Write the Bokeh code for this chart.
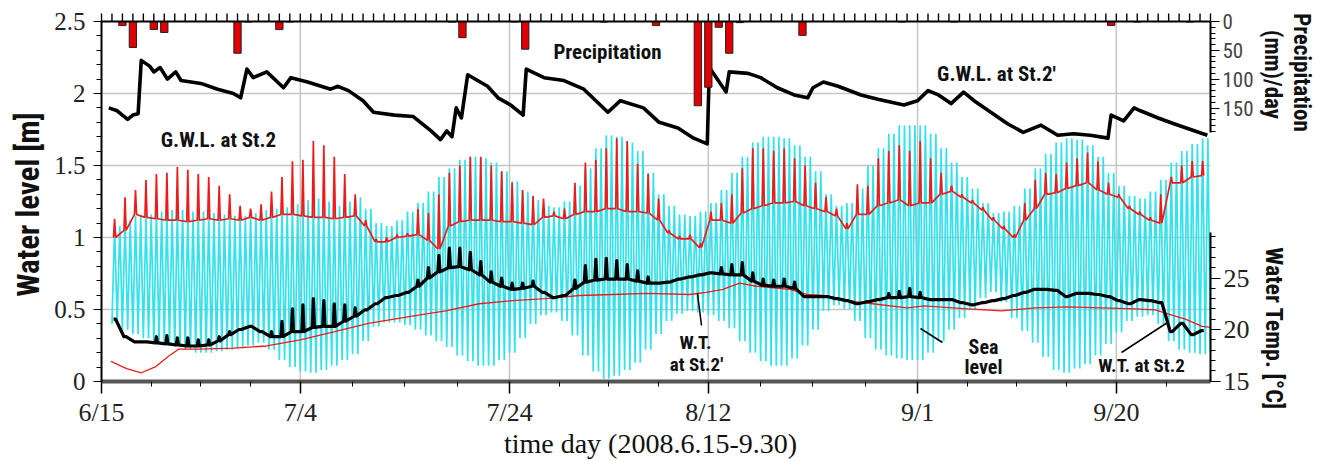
import math
from bokeh.plotting import figure
from bokeh.models import Range1d, LinearAxis, FixedTicker, Label, Arrow
from bokeh.embed import file_html
from bokeh.resources import INLINE

# ---------------- data ----------------
# x is "days since 6/15/2008"
x_tick_days = [0, 19, 39, 58, 78, 97]
x_tick_labels = ["6/15", "7/4", "7/24", "8/12", "9/1", "9/20"]
y_ticks = [0, 0.5, 1, 1.5, 2, 2.5]
y_tick_labels = ["0", "0.5", "1", "1.5", "2", "2.5"]
precip_ticks = [0, 50, 100, 150]
temp_ticks = [15, 20, 25]

# daily precipitation (mm/day)
precip_day = [2, 3, 5, 6, 13, 14, 17, 18, 33.5, 34.5, 39.5, 40.5, 48, 53, 57, 58,
              59, 60, 61, 67, 76.5, 81.5, 96.5, 99, 104]
precip_mm = [7, 45, 14, 19, 55, 1, 14, 1, 1, 28, 1, 48, 1, 7, 146, 114,
             10, 55, 2, 24, 1, 1, 7, 1, 1]

# G.W.L. at St.2' (m)
gwl2p_day = [0.7, 1.5, 2.5, 3.0, 3.5, 3.8, 4.6, 5.0, 5.6, 6.3,
             7.1, 7.6, 9.5, 11.1, 12.6, 13.3, 13.9, 14.5, 15.8, 17.4,
             18.1, 19.7, 21.9, 22.6, 23.6, 25.0, 26.0, 28.0, 29.8, 31.5,
             32.4, 33.0, 33.5, 33.9, 34.4, 35.0, 36.9, 37.9, 39.1, 40.3,
             40.6, 42.3, 44.2, 46.1, 48.4, 49.6, 51.8, 53.3, 55.1, 56.6,
             57.9, 58.1, 59.7, 60.0, 61.8, 63.0, 64.6, 66.2, 67.5, 68.0,
             69.0, 70.4, 72.6, 74.2, 76.7, 78.0, 79.0, 80.0, 81.2, 82.4,
             83.4, 85.0, 86.6, 88.1, 89.8, 91.4, 92.9, 94.5, 96.2, 96.5,
             97.7, 98.7, 99.3, 101.0, 102.5, 104.1, 105.7]
gwl2p_m = [1.90, 1.88, 1.82, 1.85, 1.86, 2.23, 2.19, 2.15, 2.18, 2.10,
           2.15, 2.09, 2.07, 2.03, 2.00, 1.97, 2.17, 2.11, 2.15, 2.04,
           2.11, 2.08, 2.03, 2.05, 2.02, 1.95, 1.87, 1.85, 1.84, 1.74,
           1.68, 1.74, 1.70, 1.90, 1.83, 2.13, 2.05, 1.97, 1.92, 1.85,
           2.17, 2.11, 2.09, 2.03, 1.87, 1.95, 1.90, 1.80, 1.76, 1.69,
           1.65, 2.18, 2.01, 2.15, 2.14, 2.11, 2.04, 1.99, 1.97, 2.04,
           2.08, 2.05, 1.99, 1.96, 1.92, 1.95, 2.02, 1.99, 1.93, 2.01,
           1.95, 1.87, 1.79, 1.73, 1.78, 1.71, 1.72, 1.71, 1.69, 1.85,
           1.81, 1.90, 1.88, 1.83, 1.79, 1.75, 1.71]

# Sea level: daily high / low water (m), days 1..106
tide_days = list(range(1, 107))
tide_high = [1.08, 1.12, 1.15, 1.16, 1.18, 1.19, 1.19, 1.18, 1.18, 1.17,
             1.16, 1.15, 1.15, 1.17, 1.19, 1.20, 1.21, 1.23, 1.26, 1.27,
             1.25, 1.22, 1.25, 1.28, 1.20, 1.10, 1.08, 1.12, 1.18, 1.24,
             1.32, 1.42, 1.48, 1.54, 1.56, 1.55, 1.52, 1.46, 1.39, 1.32,
             1.26, 1.22, 1.21, 1.25, 1.36, 1.48, 1.62, 1.71, 1.70, 1.66,
             1.60, 1.45, 1.30, 1.22, 1.16, 1.15, 1.18, 1.24, 1.33, 1.45,
             1.56, 1.66, 1.70, 1.70, 1.69, 1.64, 1.56, 1.46, 1.30, 1.22,
             1.24, 1.34, 1.50, 1.62, 1.72, 1.78, 1.78, 1.78, 1.72, 1.62,
             1.52, 1.42, 1.34, 1.24, 1.17, 1.18, 1.22, 1.34, 1.48, 1.58,
             1.66, 1.69, 1.68, 1.64, 1.56, 1.45, 1.36, 1.29, 1.27, 1.32,
             1.40, 1.52, 1.60, 1.65, 1.69, 1.70]
tide_low = [0.40, 0.36, 0.33, 0.30, 0.27, 0.26, 0.24, 0.22, 0.20, 0.20,
            0.21, 0.22, 0.23, 0.25, 0.27, 0.22, 0.15, 0.10, 0.07, 0.06,
            0.08, 0.11, 0.15, 0.19, 0.28, 0.38, 0.41, 0.41, 0.39, 0.36,
            0.32, 0.28, 0.24, 0.18, 0.14, 0.11, 0.11, 0.15, 0.20, 0.30,
            0.40, 0.46, 0.48, 0.42, 0.32, 0.18, 0.07, 0.02, 0.04, 0.08,
            0.13, 0.22, 0.33, 0.42, 0.47, 0.49, 0.48, 0.46, 0.42, 0.37,
            0.28, 0.20, 0.14, 0.11, 0.11, 0.16, 0.25, 0.36, 0.49, 0.53,
            0.50, 0.42, 0.30, 0.22, 0.18, 0.16, 0.15, 0.15, 0.20, 0.28,
            0.36, 0.44, 0.50, 0.58, 0.62, 0.55, 0.44, 0.35, 0.27, 0.17,
            0.08, 0.06, 0.09, 0.12, 0.18, 0.26, 0.34, 0.42, 0.45, 0.46,
            0.40, 0.28, 0.22, 0.20, 0.19, 0.20]

# G.W.L. at St.2 (m): daily base level and high-tide peak, days 1..106
gwl2_base = [1.00, 1.05, 1.16, 1.14, 1.13, 1.12, 1.12, 1.11, 1.12, 1.13,
             1.12, 1.13, 1.12, 1.14, 1.12, 1.14, 1.16, 1.16, 1.15, 1.14,
             1.14, 1.13, 1.14, 1.15, 1.08, 0.97, 0.97, 1.00, 1.01, 1.02,
             0.98, 0.92, 1.08, 1.11, 1.12, 1.12, 1.12, 1.11, 1.11, 1.10,
             1.09, 1.14, 1.15, 1.13, 1.16, 1.18, 1.18, 1.20, 1.20, 1.18,
             1.18, 1.17, 1.12, 1.03, 0.99, 0.99, 0.93, 1.12, 1.12, 1.10,
             1.17, 1.20, 1.22, 1.24, 1.24, 1.25, 1.22, 1.20, 1.18, 1.15,
             1.06, 1.16, 1.16, 1.22, 1.24, 1.26, 1.22, 1.24, 1.24, 1.30,
             1.32, 1.28, 1.24, 1.19, 1.12, 1.06, 1.00, 1.12, 1.20, 1.30,
             1.31, 1.34, 1.36, 1.38, 1.33, 1.30, 1.28, 1.20, 1.16, 1.12,
             1.10, 1.38, 1.38, 1.42, 1.43, 1.40]
gwl2_peak = [1.13, 1.28, 1.33, 1.40, 1.44, 1.45, 1.49, 1.47, 1.44, 1.42,
             1.36, 1.30, 1.22, 1.20, 1.23, 1.32, 1.42, 1.53, 1.54, 1.67,
             1.64, 1.56, 1.44, 1.30, 1.12, 0.99, 1.00, 1.02, 1.03, 1.20,
             1.17, 1.30, 1.45, 1.50, 1.56, 1.56, 1.50, 1.46, 1.38, 1.33,
             1.29, 1.27, 1.18, 1.20, 1.38, 1.52, 1.54, 1.62, 1.69, 1.67,
             1.51, 1.44, 1.27, 1.05, 1.01, 1.02, 0.96, 1.18, 1.24, 1.30,
             1.48, 1.62, 1.62, 1.60, 1.62, 1.55, 1.50, 1.38, 1.28, 1.20,
             1.10, 1.37, 1.36, 1.55, 1.60, 1.64, 1.60, 1.67, 1.55, 1.45,
             1.36, 1.30, 1.26, 1.21, 1.14, 1.08, 1.02, 1.24, 1.40, 1.45,
             1.44, 1.52, 1.55, 1.59, 1.53, 1.38, 1.30, 1.22, 1.18, 1.14,
             1.30, 1.42, 1.50, 1.53, 1.53, 1.45]

# W.T. at St.2 (deg C): daily base and peak, days 1..106
wt2_base = [21.0, 19.3, 18.8, 18.8, 18.7, 18.6, 18.5, 18.4, 18.4, 18.5,
            18.9, 19.5, 20.0, 20.3, 19.8, 19.3, 19.3, 19.8, 19.8, 20.2,
            20.3, 20.3, 20.8, 21.3, 21.9, 22.5, 23.1, 23.3, 23.6, 24.2,
            25.0, 25.6, 26.0, 26.1, 25.8, 25.3, 24.6, 24.2, 23.9, 24.0,
            24.2, 23.6, 23.1, 23.3, 24.0, 24.6, 24.8, 24.9, 24.9, 24.9,
            24.7, 24.5, 24.5, 24.6, 24.9, 25.1, 25.3, 25.5, 25.4, 25.3,
            25.3, 24.7, 24.3, 24.2, 24.2, 24.0, 23.2, 23.2, 23.2, 23.0,
            22.8, 22.5, 22.7, 22.9, 23.1, 23.1, 23.2, 23.1, 22.9, 22.9,
            22.9, 22.6, 22.4, 22.6, 22.8, 23.0, 23.3, 23.6, 23.9, 23.9,
            23.8, 23.2, 23.5, 23.5, 23.4, 23.2, 22.8, 22.5, 22.9, 22.8,
            22.6, 19.8, 20.6, 19.5, 19.9, 20.3]
wt2_peak = [21.0, 19.3, 18.8, 18.8, 19.3, 19.4, 19.2, 19.2, 19.0, 19.0,
            19.3, 19.8, 20.0, 20.3, 19.8, 19.8, 20.8, 22.0, 22.4, 23.0,
            22.8, 22.5, 22.4, 22.1, 21.9, 22.5, 23.1, 23.3, 23.6, 24.8,
            26.0, 27.2, 27.9, 27.9, 27.5, 26.6, 25.6, 25.0, 24.5, 24.5,
            24.7, 23.6, 23.1, 23.3, 24.8, 26.2, 26.8, 26.9, 26.7, 26.3,
            25.7, 25.1, 24.5, 24.6, 24.9, 25.1, 25.3, 25.5, 26.0, 26.3,
            26.5, 25.5, 24.9, 24.8, 24.9, 24.6, 23.2, 23.2, 23.2, 23.0,
            22.8, 22.5, 22.7, 22.9, 23.5, 23.7, 24.0, 23.6, 22.9, 22.9,
            22.9, 22.6, 22.4, 22.6, 22.8, 23.0, 23.3, 23.6, 23.9, 23.9,
            23.8, 23.2, 23.5, 23.5, 23.4, 23.2, 22.8, 22.5, 22.9, 22.8,
            22.6, 19.8, 20.6, 19.5, 19.9, 20.3]

# W.T. at St.2' (deg C)
wt2p_day = [0.9, 2.4, 3.8, 5.2, 6.4, 7.4, 9.4, 12.6, 15.8, 19.0,
            22.3, 25.5, 29.7, 32.9, 36.1, 39.3, 42.5, 45.7, 48.9, 52.1,
            56.2, 57.8, 59.4, 61.0, 62.6, 65.8, 67.4, 69.0, 72.1, 73.7,
            77.0, 78.6, 82.8, 86.0, 89.2, 92.4, 95.6, 98.8, 100.7, 102.0,
            103.6, 105.2, 106.0]
wt2p_c = [16.9, 16.2, 15.8, 16.4, 17.4, 18.1, 18.1, 18.2, 18.4, 19.0,
          19.8, 20.6, 21.3, 21.8, 22.5, 22.8, 23.0, 23.3, 23.4, 23.5,
          23.4, 23.6, 23.9, 24.5, 24.2, 23.9, 23.4, 23.3, 22.7, 22.5,
          22.1, 22.3, 22.0, 21.8, 22.1, 22.2, 22.1, 22.0, 21.9, 21.5,
          21.0, 20.3, 20.2]

# ---------------- layout / styling ----------------
W, H = 1322, 461
X_END = 106                      # last day shown (9/30)
PX_DAY = 1109 / X_END            # plot box: x 101..1210 px
LEFT, BOTTOM, TOP = 101, 381, 21  # page pixels of the plot box
PX_M = (BOTTOM - TOP) / 2.5
PX_MM = 0.577
PX_C, C15_Y = 10.3, 380.5

CYAN = "#33e2ea"
RED = "#ec1c1c"
SANS = "Roboto Condensed"
SERIF = "Liberation Serif"

x_range = Range1d(-LEFT / PX_DAY, (W - LEFT) / PX_DAY)
y_range = Range1d(-(H - BOTTOM) / PX_M, BOTTOM / PX_M)

p = figure(width=W, height=H, output_backend="svg", toolbar_location=None,
           x_range=x_range, y_range=y_range,
           min_border_left=0, min_border_right=0, min_border_top=0,
           min_border_bottom=0)
p.outline_line_color = None
p.background_fill_color = None
p.border_fill_color = None
p.xgrid.grid_line_color = None
p.ygrid.grid_line_color = None
p.extra_y_ranges = {
    "precip": Range1d(start=(H - TOP) / PX_MM, end=-TOP / PX_MM),
    "temp": Range1d(start=15 - (H - C15_Y) / PX_C, end=15 + C15_Y / PX_C),
}

# grid lines at the major ticks, inside the plot box
GRID = "#c6c6c6"
p.segment(x0=x_tick_days[1:], y0=[0] * 5, x1=x_tick_days[1:], y1=[2.5] * 5,
          line_color=GRID, line_width=1.5, level="underlay")
p.segment(x0=[0] * 4, y0=y_ticks[1:5], x1=[X_END] * 4, y1=y_ticks[1:5],
          line_color=GRID, line_width=1.5, level="underlay")

# sea level (semi-diurnal tide between daily low and high)
sx, sy = [], []
for d, hi, lo in zip(tide_days, tide_high, tide_low):
    for t, v in ((d, lo), (d + 0.25, hi), (d + 0.5, lo), (d + 0.75, hi)):
        if t <= X_END:
            sx.append(t)
            sy.append(v)
p.line(sx, sy, line_color=CYAN, line_width=1.7)

# G.W.L. at St.2 (red, spiky)
gx, gy = [], []
for d, b, pk in zip(tide_days, gwl2_base, gwl2_peak):
    for t, v in ((d + 0.15, b), (d + 0.25, pk), (d + 0.35, b)):
        if t <= X_END:
            gx.append(t)
            gy.append(v)
p.line(gx, gy, line_color=RED, line_width=1.7)

# W.T. at St.2' (thin red)
p.line(wt2p_day, wt2p_c, y_range_name="temp", line_color=RED, line_width=1.3)

# W.T. at St.2 (thick black)
wx, wy = [], []
for d, b, pk in zip(tide_days, wt2_base, wt2_peak):
    for t, v in ((d + 0.15, b), (d + 0.25, pk), (d + 0.35, b)):
        if t <= X_END:
            wx.append(t)
            wy.append(v)
p.line(wx, wy, y_range_name="temp", line_color="black", line_width=3.2,
       line_join="round")

# G.W.L. at St.2' (thick black)
p.line(gwl2p_day, gwl2p_m, line_color="black", line_width=3.6, line_join="round")

# precipitation bars hanging from the top
p.vbar(x=precip_day, width=0.7, top=0, bottom=precip_mm, y_range_name="precip",
       fill_color="#e00000", line_color="#222222", line_width=1)

# daily tick marks along the top edge (small black bars pointing up)
day_ticks = list(range(0, X_END + 1))
p.vbar(x=day_ticks, width=1.4 / PX_DAY, bottom=2.5, top=2.5 + 8 / PX_M,
       fill_color="black", line_color=None, level="overlay")

# ---------------- axes (all at fixed locations) ----------------
minor_x = []
for a, b in zip(x_tick_days[:-1], x_tick_days[1:]):
    minor_x += [a + k * (b - a) / 4 for k in range(1, 4)]
minor_x += [x_tick_days[-1] + (x_tick_days[-1] - x_tick_days[-2]) / 4]

xa = p.xaxis[0]
xa.fixed_location = 0
xa.bounds = (0, X_END)
xa.ticker = FixedTicker(ticks=x_tick_days, minor_ticks=minor_x)
xa.major_label_overrides = {d: s for d, s in zip(x_tick_days, x_tick_labels)}
xa.major_label_text_font = SERIF
xa.major_label_text_font_size = "26px"
xa.major_label_text_color = "#222222"
xa.major_label_standoff = 4
xa.major_tick_out = 12
xa.major_tick_in = 0
xa.minor_tick_out = 5
xa.minor_tick_in = 0
xa.axis_line_width = 4
xa.axis_line_color = "#555555"
xa.major_tick_line_width = 1.5

ya = p.yaxis[0]
ya.fixed_location = 0
ya.bounds = (0, 2.5)
ya.ticker = FixedTicker(ticks=y_ticks, minor_ticks=[i / 10 for i in range(26)])
ya.major_label_overrides = {v: s for v, s in zip(y_ticks, y_tick_labels)}
ya.major_label_text_font = SERIF
ya.major_label_text_font_size = "25px"
ya.major_label_text_color = "#222222"
ya.major_label_standoff = 8
ya.major_tick_out = 8
ya.major_tick_in = 0
ya.minor_tick_out = 5
ya.minor_tick_in = 0
ya.axis_line_width = 2

# top edge line
top_ax = LinearAxis(ticker=FixedTicker(ticks=[]), fixed_location=2.5,
                    bounds=(0, X_END), major_tick_out=0, major_tick_in=0,
                    minor_tick_out=0, minor_tick_in=0, axis_line_width=2)
p.add_layout(top_ax, "below")

pa = LinearAxis(y_range_name="precip",
                ticker=FixedTicker(ticks=precip_ticks,
                                   minor_ticks=list(range(10, 200, 10))),
                bounds=(0, 193), fixed_location=X_END,
                major_tick_out=9, major_tick_in=0, minor_tick_out=5,
                minor_tick_in=0, major_label_standoff=3,
                major_label_text_font=SANS, major_label_text_font_size="21px",
                axis_line_width=2)
p.add_layout(pa, "right")

ta = LinearAxis(y_range_name="temp",
                ticker=FixedTicker(ticks=temp_ticks,
                                   minor_ticks=list(range(16, 30))),
                bounds=(15, 29.4), fixed_location=X_END,
                major_tick_out=10, major_tick_in=0,
                minor_tick_out=5, minor_tick_in=0, major_label_standoff=3,
                major_label_text_font=SERIF, major_label_text_font_size="26px",
                major_label_text_color="#222222", axis_line_width=2)
p.add_layout(ta, "right")


# ---------------- texts (screen px: x from left, y from bottom) ----------------
def lab(txt, x, y, size, font=SANS, style="bold", angle=0.0):
    p.add_layout(Label(x=x, y=H - y, x_units="screen", y_units="screen",
                       text=txt, text_font=font, text_font_style=style,
                       text_font_size=size, text_align="center",
                       text_baseline="middle", angle=angle,
                       text_color="#111111"))


lab("Water level [m]", 28, 204, "31px", angle=math.pi / 2)
lab("Precipitation", 1301, 72, "23px", angle=-math.pi / 2)
lab("(mm)/day", 1272, 74, "23px", angle=-math.pi / 2)
lab("Water Temp. [°C]", 1273, 328, "24px", angle=-math.pi / 2)
lab("time day (2008.6.15-9.30)", 650, 443, "28px", font=SERIF, style="normal")

lab("G.W.L. at St.2", 218, 139, "21px")
lab("Precipitation", 607, 51, "21px")
lab("G.W.L. at St.2'", 996, 73, "21px")
lab("W.T.", 695, 342, "19px")
lab("at St.2'", 696, 364, "19px")
lab("Sea", 983, 346, "20px")
lab("level", 983, 366, "20px")
lab("W.T. at St.2", 1141, 365, "19px")

for (x0, y0, x1, y1) in [(697, 293, 701, 325), (920, 328, 942, 342),
                         (1121, 352, 1167, 322)]:
    p.add_layout(Arrow(end=None, x_start=x0, y_start=H - y0, x_end=x1,
                       y_end=H - y1, start_units="screen", end_units="screen",
                       line_color="black", line_width=1.5))

open("out.html", "w").write(file_html(p, INLINE))
